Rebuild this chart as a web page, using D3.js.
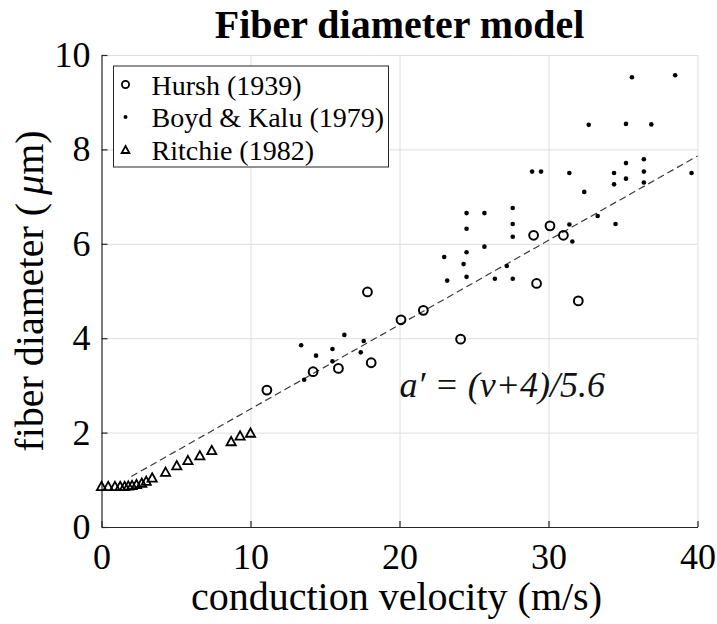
<!DOCTYPE html>
<html>
<head>
<meta charset="utf-8">
<script src="https://cdn.jsdelivr.net/npm/d3@7/dist/d3.min.js"></script>
<style>
  body { margin: 0; background: #fff; }
  text { font-family: "Liberation Serif", "Times New Roman", serif; }
</style>
</head>
<body>
<div id="scatter"></div>
<script>
// data
var hurshV = [11.1, 14.2, 15.9, 17.85, 18.1, 20.1, 21.6, 24.1, 29.0, 29.2, 30.1, 31.0, 32.0];
var hurshD = [2.90, 3.29, 3.36, 4.98, 3.48, 4.39, 4.59, 3.98, 6.18, 5.16, 6.38, 6.18, 4.79];

var boydV = [13.4, 13.6, 14.4, 15.5, 15.5, 16.3, 17.4, 17.6, 23.0, 23.2, 24.3, 24.5, 24.5, 24.5, 24.5,
             25.7, 25.7, 26.4, 27.2, 27.6, 27.6, 27.6, 27.6, 28.9, 29.5, 31.4, 31.4, 31.6, 32.4, 32.7,
             33.3, 34.4, 34.4, 34.5, 35.2, 35.2, 35.2, 35.6, 36.4, 36.4, 36.4, 36.9, 38.5, 39.6];
var boydD = [3.85, 3.12, 3.63, 3.77, 3.51, 4.07, 3.70, 3.94, 5.72, 5.22, 5.57, 5.82, 5.30, 6.32, 6.65,
             6.65, 5.94, 5.26, 5.53, 5.26, 6.15, 6.42, 6.76, 7.53, 7.53, 6.41, 7.50, 6.05, 7.10, 8.52,
             6.59, 7.50, 7.26, 6.42, 7.71, 7.38, 8.54, 9.53, 7.79, 7.53, 7.30, 8.53, 9.57, 7.50];

var ritchieV = [0.0, 0.45, 0.9, 1.25, 1.55, 1.8, 2.05, 2.35, 2.7, 3.0, 3.4, 4.3, 5.05, 5.8, 6.6, 7.4, 8.7, 9.3, 10.0];
var ritchieD = [0.87, 0.87, 0.87, 0.87, 0.87, 0.88, 0.89, 0.91, 0.94, 0.98, 1.05, 1.17, 1.31, 1.42, 1.52, 1.63, 1.82, 1.94, 2.0];

// model line a' = (v+4)/5.6, end points
var modelV = [2, 40];
var modelD = [1.07, 7.86];

var xTicks = [0, 10, 20, 30, 40];
var yTicks = [0, 2, 4, 6, 8, 10];
var seriesNames = ["Hursh (1939)", "Boyd & Kalu (1979)", "Ritchie (1982)"];

var svgWidth = 717;
var svgHeight = 624;

var margin = {
  top: 55,
  right: 19.5,
  bottom: 97,
  left: 101.5
};

var width = svgWidth - margin.left - margin.right;
var height = svgHeight - margin.top - margin.bottom;

var axisColor = "#262626";
var gridColor = "#dedede";

var svg = d3.select("#scatter")
            .append("svg")
            .attr("width", svgWidth)
            .attr("height", svgHeight);

var chartGroup = svg.append("g")
                    .attr("transform", `translate(${margin.left}, ${margin.top})`);

var xLinearScale = d3.scaleLinear().domain([0, 40]).range([0, width]);
var yLinearScale = d3.scaleLinear().domain([0, 10]).range([height, 0]);

// grid lines
chartGroup.append("g")
    .attr("class", "x-grid")
    .attr("transform", `translate(0, ${height})`)
    .call(d3.axisBottom(xLinearScale).tickValues(xTicks.slice(1)).tickSize(-height).tickFormat(""))
    .call(g => g.select(".domain").remove())
    .call(g => g.selectAll("line").attr("stroke", gridColor).attr("stroke-width", 1));

chartGroup.append("g")
    .attr("class", "y-grid")
    .call(d3.axisLeft(yLinearScale).tickValues(yTicks.slice(1)).tickSize(-width).tickFormat(""))
    .call(g => g.select(".domain").remove())
    .call(g => g.selectAll("line").attr("stroke", gridColor).attr("stroke-width", 1));

// axes with inward ticks
var bottomAxis = d3.axisBottom(xLinearScale).tickValues(xTicks).tickSize(-6).tickSizeOuter(0).tickPadding(16);
var leftAxis = d3.axisLeft(yLinearScale).tickValues(yTicks).tickSize(-6).tickSizeOuter(0).tickPadding(11);

chartGroup.append("g")
    .attr("transform", `translate(0, ${height})`)
    .call(bottomAxis)
    .call(g => g.selectAll("path, line").attr("stroke", axisColor).attr("stroke-width", 1.2))
    .call(g => g.selectAll("text").attr("font-size", "36px").attr("fill", "#000")
          .style("font-family", "'Liberation Serif', 'Times New Roman', serif"));

chartGroup.append("g")
    .call(leftAxis)
    .call(g => g.selectAll("path, line").attr("stroke", axisColor).attr("stroke-width", 1.2))
    .call(g => g.selectAll("text").attr("font-size", "36px").attr("fill", "#000")
          .style("font-family", "'Liberation Serif', 'Times New Roman', serif"));

// dashed model line
var modelLine = d3.line()
    .x((d, i) => xLinearScale(modelV[i]))
    .y(d => yLinearScale(d));

chartGroup.append("path")
    .attr("d", modelLine(modelD))
    .attr("fill", "none")
    .attr("stroke", "#3a3a3a")
    .attr("stroke-width", 1.2)
    .attr("stroke-dasharray", "7,4");

// triangle centred on its bounding box, like the MATLAB '^' marker
var boxTriangle = {
  draw: function(context, size) {
    var w = Math.sqrt(size);
    var h = w * 0.9;
    context.moveTo(0, -h / 2);
    context.lineTo(w / 2, h / 2);
    context.lineTo(-w / 2, h / 2);
    context.closePath();
  }
};

// Ritchie triangles
chartGroup.selectAll(".ritchie")
    .data(ritchieD)
    .enter()
    .append("path")
    .attr("class", "ritchie")
    .attr("d", d3.symbol().type(boxTriangle).size(85))
    .attr("transform", (d, i) => `translate(${xLinearScale(ritchieV[i])}, ${yLinearScale(d)})`)
    .attr("fill", "none")
    .attr("stroke", "#000")
    .attr("stroke-width", 1.8)
    .attr("stroke-linejoin", "miter");

// Boyd & Kalu dots
chartGroup.selectAll(".boyd")
    .data(boydD)
    .enter()
    .append("circle")
    .attr("class", "boyd")
    .attr("cx", (d, i) => xLinearScale(boydV[i]))
    .attr("cy", d => yLinearScale(d))
    .attr("r", 2.3)
    .attr("fill", "#000");

// Hursh circles
chartGroup.selectAll(".hursh")
    .data(hurshD)
    .enter()
    .append("circle")
    .attr("class", "hursh")
    .attr("cx", (d, i) => xLinearScale(hurshV[i]))
    .attr("cy", d => yLinearScale(d))
    .attr("r", 4.4)
    .attr("fill", "none")
    .attr("stroke", "#000")
    .attr("stroke-width", 2);

// equation
chartGroup.append("text")
    .attr("x", xLinearScale(20))
    .attr("y", yLinearScale(2.76))
    .attr("font-size", "36px")
    .attr("font-style", "italic")
    .attr("fill", "#111")
    .text("a\u2032 = (v+4)/5.6");

// legend
var legend = svg.append("g").attr("transform", "translate(113.5, 66)");

legend.append("rect")
    .attr("width", 275)
    .attr("height", 101)
    .attr("fill", "#fff")
    .attr("stroke", axisColor)
    .attr("stroke-width", 1);

var rowY = [18.5, 51, 83.5];

legend.append("circle")
    .attr("cx", 12).attr("cy", rowY[0]).attr("r", 3.6)
    .attr("fill", "none").attr("stroke", "#000").attr("stroke-width", 1.8);

legend.append("circle")
    .attr("cx", 12).attr("cy", rowY[1]).attr("r", 2)
    .attr("fill", "#000");

legend.append("path")
    .attr("d", d3.symbol().type(boxTriangle).size(60))
    .attr("transform", `translate(12, ${rowY[2]})`)
    .attr("fill", "none").attr("stroke", "#000").attr("stroke-width", 1.8);

legend.selectAll(".legend-text")
    .data(seriesNames)
    .enter()
    .append("text")
    .attr("class", "legend-text")
    .attr("x", 38)
    .attr("y", (d, i) => rowY[i] + 10)
    .attr("font-size", "28px")
    .attr("fill", "#000")
    .text(d => d);

// title
svg.append("text")
    .attr("x", margin.left + width / 2)
    .attr("y", 38)
    .attr("text-anchor", "middle")
    .attr("font-size", "40px")
    .attr("font-weight", "bold")
    .text("Fiber diameter model");

// x axis label
svg.append("text")
    .attr("x", margin.left + width / 2 - 3)
    .attr("y", 610)
    .attr("text-anchor", "middle")
    .attr("font-size", "40px")
    .text("conduction velocity (m/s)");

// y axis label
var yLabel = svg.append("text")
    .attr("transform", `translate(43, ${margin.top + height / 2}) rotate(-90)`)
    .attr("text-anchor", "middle")
    .attr("font-size", "40px");

yLabel.append("tspan").text("fiber diameter (\u2009");
yLabel.append("tspan").attr("font-style", "italic").text("\u03bc");
yLabel.append("tspan").text("m)");
</script>
</body>
</html>
